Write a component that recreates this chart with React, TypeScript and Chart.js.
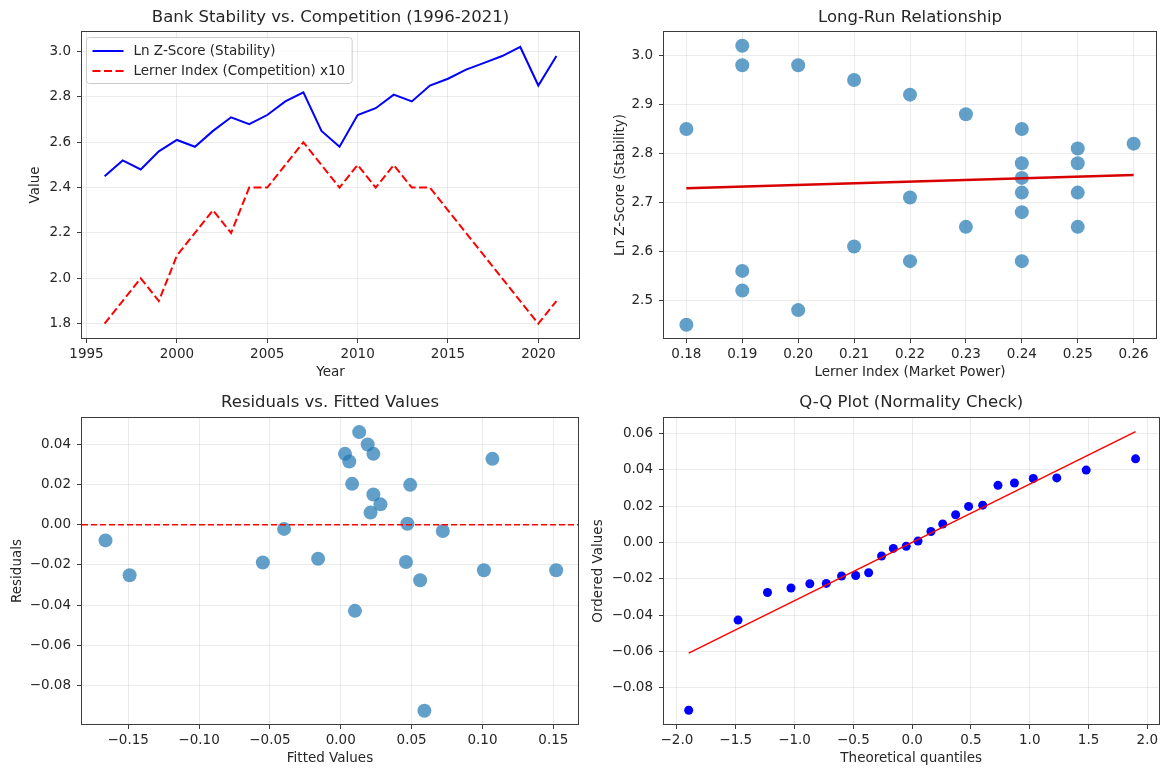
import React, { useEffect, useRef } from 'react';
import { Chart, registerables } from 'chart.js';

Chart.register(...registerables);

// ---------------- data ----------------
const years = [1996, 1997, 1998, 1999, 2000, 2001, 2002, 2003, 2004, 2005, 2006, 2007, 2008, 2009, 2010, 2011, 2012, 2013, 2014, 2015, 2016, 2017, 2018, 2019, 2020, 2021];
const lnZScore = [2.45, 2.52, 2.48, 2.56, 2.61, 2.58, 2.65, 2.71, 2.68, 2.72, 2.78, 2.82, 2.65, 2.58, 2.72, 2.75, 2.81, 2.78, 2.85, 2.88, 2.92, 2.95, 2.98, 3.02, 2.85, 2.98];
const lernerX10 = [1.8, 1.9, 2.0, 1.9, 2.1, 2.2, 2.3, 2.2, 2.4, 2.4, 2.5, 2.6, 2.5, 2.4, 2.5, 2.4, 2.5, 2.4, 2.4, 2.3, 2.2, 2.1, 2.0, 1.9, 1.8, 1.9];
const lernerIndex = [0.18, 0.19, 0.20, 0.19, 0.21, 0.22, 0.23, 0.22, 0.24, 0.24, 0.25, 0.26, 0.25, 0.24, 0.25, 0.24, 0.25, 0.24, 0.24, 0.23, 0.22, 0.21, 0.20, 0.19, 0.18, 0.19];

const fitLineX = [0.18, 0.26];
const fitLineY = [2.729, 2.756];

const fittedValues = [-0.166, -0.149, -0.055, -0.040, -0.016, 0.003, 0.006, 0.008, 0.010, 0.013, 0.019, 0.023, 0.023, 0.021, 0.028, 0.046, 0.047, 0.049, 0.056, 0.059, 0.072, 0.101, 0.107, 0.152];
const residuals = [-0.0078, -0.0251, -0.0188, -0.0021, -0.0169, 0.0352, 0.0314, 0.0203, -0.0428, 0.0460, 0.0398, 0.0352, 0.0150, 0.0060, 0.0101, -0.0185, 0.0005, 0.0198, -0.0276, -0.0924, -0.0031, -0.0226, 0.0327, -0.0226];

const theoreticalQuantiles = [-1.90, -1.48, -1.23, -1.03, -0.87, -0.73, -0.60, -0.48, -0.37, -0.26, -0.16, -0.05, 0.05, 0.16, 0.26, 0.37, 0.48, 0.60, 0.73, 0.87, 1.03, 1.23, 1.48, 1.90];
const orderedValues = [-0.0924, -0.0428, -0.0276, -0.0251, -0.0228, -0.0226, -0.0185, -0.0182, -0.0167, -0.0075, -0.0033, -0.0021, 0.0008, 0.0060, 0.0101, 0.0152, 0.0198, 0.0205, 0.0314, 0.0327, 0.0352, 0.0355, 0.0398, 0.0460];
const qqLineX = [-1.90, 1.90];
const qqLineY = [-0.061, 0.061];

const tlXTicks = [1995, 2000, 2005, 2010, 2015, 2020];
const tlYTicks = [1.8, 2.0, 2.2, 2.4, 2.6, 2.8, 3.0];
const trXTicks = [0.18, 0.19, 0.20, 0.21, 0.22, 0.23, 0.24, 0.25, 0.26];
const trYTicks = [2.5, 2.6, 2.7, 2.8, 2.9, 3.0];
const blXTicks = [-0.15, -0.10, -0.05, 0.00, 0.05, 0.10, 0.15];
const blYTicks = [-0.08, -0.06, -0.04, -0.02, 0.00, 0.02, 0.04];
const brXTicks = [-2.0, -1.5, -1.0, -0.5, 0.0, 0.5, 1.0, 1.5, 2.0];
const brYTicks = [-0.08, -0.06, -0.04, -0.02, 0.00, 0.02, 0.04, 0.06];

const legendLabels = ['Ln Z-Score (Stability)', 'Lerner Index (Competition) x10'];

// ---------------- styles ----------------
const FONT = '"DejaVu Sans", sans-serif';
const TEXT = '#262626';
const AXIS = '#3c3c3c';
const GRID = 'rgba(176,176,176,0.33)';
const SCATTER = 'rgba(31,119,180,0.7)';
const TICK_SIZE = 13.5;
const TITLE_SIZE = 16.5;

const fmt = (d: number) => (v: number) => {
  const s = Math.abs(v).toFixed(d);
  return v < -1e-9 ? '\u2212' + s : s;
};

type Box = { x: number; y: number; w: number; h: number };
type Area = { l: number; t: number; r: number; b: number };

function axis(o: {
  isY: boolean; min: number; max: number; ticks: number[]; f: (v: number) => string;
  title: string; titleOffset: number; size: number;
}) {
  const pad = Math.max(o.titleOffset - (TICK_SIZE * 1.2) / 2, 0);
  return {
    type: 'linear',
    position: o.isY ? 'left' : 'bottom',
    min: o.min,
    max: o.max,
    bounds: 'data',
    afterBuildTicks: (s: any) => {
      s.ticks = o.ticks.map((v) => ({ value: v }));
    },
    afterFit: (s: any) => {
      if (o.isY) s.width = o.size;
      else s.height = o.size;
    },
    grid: { color: GRID, lineWidth: 0.8, drawTicks: true, tickLength: 5, tickColor: AXIS, tickWidth: 1 },
    border: { display: false },
    ticks: {
      font: { family: FONT, size: TICK_SIZE },
      color: TEXT,
      padding: o.isY ? 6 : 3,
      autoSkip: false,
      maxRotation: 0,
      minRotation: 0,
      callback: (v: any) => o.f(Number(v)),
    },
    title: {
      display: true,
      text: o.title,
      color: TEXT,
      font: { family: FONT, size: TICK_SIZE },
      padding: o.isY ? { top: pad, bottom: 0 } : { top: 0, bottom: pad },
    },
  };
}

const framePlugin = {
  id: 'frame',
  afterDatasetsDraw(chart: any) {
    const { ctx, chartArea: a } = chart;
    ctx.save();
    ctx.strokeStyle = AXIS;
    ctx.lineWidth = 1;
    const l = Math.round(a.left) - 0.5;
    const t = Math.round(a.top) - 0.5;
    const r = Math.round(a.right) + 0.5;
    const b = Math.round(a.bottom) + 0.5;
    ctx.strokeRect(l, t, r - l, b - t);
    ctx.restore();
  },
};

const legendPlugin = {
  id: 'innerLegend',
  afterDraw(chart: any) {
    const { ctx, chartArea: a } = chart;
    ctx.save();
    ctx.font = `${TICK_SIZE}px ${FONT}`;
    const tw = Math.max(...legendLabels.map((s) => ctx.measureText(s).width));
    const x = a.left + 4.5;
    const y = a.top + 5.5;
    const w = 47 + tw + 7;
    const h = 46;
    ctx.beginPath();
    ctx.roundRect(x, y, w, h, 3);
    ctx.fillStyle = 'rgba(255,255,255,0.8)';
    ctx.fill();
    ctx.strokeStyle = '#cccccc';
    ctx.lineWidth = 1;
    ctx.stroke();
    const rows = [
      { color: '#0000ff', dash: [] as number[] },
      { color: '#ff0000', dash: [8, 3.5] },
    ];
    rows.forEach((row, i) => {
      const cy = y + 13.5 + i * 20;
      ctx.beginPath();
      ctx.setLineDash(row.dash);
      ctx.strokeStyle = row.color;
      ctx.lineWidth = 2;
      ctx.moveTo(x + 6, cy);
      ctx.lineTo(x + 37, cy);
      ctx.stroke();
      ctx.setLineDash([]);
      ctx.fillStyle = TEXT;
      ctx.textBaseline = 'middle';
      ctx.textAlign = 'left';
      ctx.fillText(legendLabels[i], x + 47, cy + 0.5);
    });
    ctx.restore();
  },
};

const zeroLinePlugin = {
  id: 'zeroLine',
  afterDatasetsDraw(chart: any) {
    const { ctx, chartArea: a, scales } = chart;
    const py = scales.y.getPixelForValue(0);
    ctx.save();
    ctx.strokeStyle = '#ff0000';
    ctx.lineWidth = 1.5;
    ctx.setLineDash([6, 3]);
    ctx.beginPath();
    ctx.moveTo(a.left, py);
    ctx.lineTo(a.right, py);
    ctx.stroke();
    ctx.restore();
  },
};

function baseOptions(box: Box, area: Area, title: string, titleCenter: number, scales: any) {
  const chartTop = area.t - box.y;
  const lh = TITLE_SIZE * 1.2;
  const topPad = titleCenter - lh / 2;
  return {
    responsive: false,
    maintainAspectRatio: false,
    devicePixelRatio: 1,
    animation: false,
    events: [],
    layout: { padding: { left: 0, top: 0, bottom: 0, right: box.x + box.w - area.r } },
    plugins: {
      legend: { display: false },
      tooltip: { enabled: false },
      title: {
        display: true,
        text: title,
        color: TEXT,
        fullSize: false,
        font: { family: FONT, size: TITLE_SIZE, weight: 'normal' },
        padding: { top: topPad, bottom: chartTop - topPad - lh },
      },
    },
    scales,
  };
}

const pts = (xs: number[], ys: number[]) => xs.map((x, i) => ({ x, y: ys[i] }));

const TL: [Box, Area] = [{ x: 0, y: 0, w: 585, h: 384 }, { l: 82, t: 32, r: 579, b: 338 }];
const TR: [Box, Area] = [{ x: 585, y: 0, w: 578, h: 384 }, { l: 664, t: 32, r: 1161, b: 338 }];
const BL: [Box, Area] = [{ x: 0, y: 384, w: 585, h: 385 }, { l: 82, t: 418, r: 579, b: 724 }];
const BR: [Box, Area] = [{ x: 585, y: 384, w: 578, h: 385 }, { l: 664, t: 418, r: 1161, b: 724 }];

function configTL(box: Box, area: Area): any {
  return {
    type: 'scatter',
    data: {
      datasets: [
        { label: legendLabels[1], data: pts(years, lernerX10), showLine: true, borderColor: '#ff0000', borderWidth: 2, borderDash: [8, 3.5], pointRadius: 0, fill: false },
        { label: legendLabels[0], data: pts(years, lnZScore), showLine: true, borderColor: '#0000ff', borderWidth: 2, pointRadius: 0, fill: false },
      ],
    },
    options: baseOptions(box, area, 'Bank Stability vs. Competition (1996-2021)', 17.3, {
      x: axis({ isY: false, min: 1994.75, max: 2022.25, ticks: tlXTicks, f: (v) => String(Math.round(v)), title: 'Year', titleOffset: 11.5, size: box.y + box.h - area.b }),
      y: axis({ isY: true, min: 1.737, max: 3.086, ticks: tlYTicks, f: fmt(1), title: 'Value', titleOffset: 35, size: area.l - box.x }),
    }),
    plugins: [framePlugin, legendPlugin],
  };
}

function configTR(box: Box, area: Area): any {
  return {
    type: 'scatter',
    data: {
      datasets: [
        { data: pts(fitLineX, fitLineY), showLine: true, borderColor: '#d80000', borderWidth: 2.5, pointRadius: 0, fill: false },
        { data: pts(lernerIndex, lnZScore), backgroundColor: SCATTER, borderWidth: 0, pointRadius: 7 },
      ],
    },
    options: baseOptions(box, area, 'Long-Run Relationship', 17.3, {
      x: axis({ isY: false, min: 0.176, max: 0.264, ticks: trXTicks, f: fmt(2), title: 'Lerner Index (Market Power)', titleOffset: 11.5, size: box.y + box.h - area.b }),
      y: axis({ isY: true, min: 2.423, max: 3.048, ticks: trYTicks, f: fmt(1), title: 'Ln Z-Score (Stability)', titleOffset: 35, size: area.l - box.x }),
    }),
    plugins: [framePlugin],
  };
}

function configBL(box: Box, area: Area): any {
  return {
    type: 'scatter',
    data: {
      datasets: [
        { data: pts(fittedValues, residuals), backgroundColor: SCATTER, borderWidth: 0, pointRadius: 7 },
      ],
    },
    options: baseOptions(box, area, 'Residuals vs. Fitted Values', 18.7, {
      x: axis({ isY: false, min: -0.1826, max: 0.1674, ticks: blXTicks, f: fmt(2), title: 'Fitted Values', titleOffset: 11, size: box.y + box.h - area.b }),
      y: axis({ isY: true, min: -0.099, max: 0.053, ticks: blYTicks, f: fmt(2), title: 'Residuals', titleOffset: 17, size: area.l - box.x }),
    }),
    plugins: [zeroLinePlugin, framePlugin],
  };
}

function configBR(box: Box, area: Area): any {
  return {
    type: 'scatter',
    data: {
      datasets: [
        { data: pts(qqLineX, qqLineY), showLine: true, borderColor: '#ff0000', borderWidth: 1.5, pointRadius: 0, fill: false },
        { data: pts(theoreticalQuantiles, orderedValues), backgroundColor: '#0000ff', borderWidth: 0, pointRadius: 4.5 },
      ],
    },
    options: baseOptions(box, area, 'Q-Q Plot (Normality Check)', 18.7, {
      x: axis({ isY: false, min: -2.11, max: 2.095, ticks: brXTicks, f: fmt(1), title: 'Theoretical quantiles', titleOffset: 11, size: box.y + box.h - area.b }),
      y: axis({ isY: true, min: -0.1, max: 0.0685, ticks: brYTicks, f: fmt(2), title: 'Ordered Values', titleOffset: 13, size: area.l - box.x }),
    }),
    plugins: [framePlugin],
  };
}

function Panel({ spec, build }: { spec: [Box, Area]; build: (b: Box, a: Area) => any }) {
  const ref = useRef<HTMLCanvasElement>(null);
  const [box, area] = spec;
  useEffect(() => {
    if (!ref.current) return;
    const chart = new Chart(ref.current, build(box, area));
    return () => chart.destroy();
  }, []);
  return (
    <div style={{ position: 'absolute', left: box.x, top: box.y, width: box.w, height: box.h }}>
      <canvas ref={ref} width={box.w} height={box.h} style={{ display: 'block', width: box.w, height: box.h }} />
    </div>
  );
}

export default function App() {
  return (
    <div style={{ position: 'absolute', left: 0, top: 0, width: 1163, height: 769, background: '#ffffff', overflow: 'hidden' }}>
      <Panel spec={TL} build={configTL} />
      <Panel spec={TR} build={configTR} />
      <Panel spec={BL} build={configBL} />
      <Panel spec={BR} build={configBR} />
    </div>
  );
}
